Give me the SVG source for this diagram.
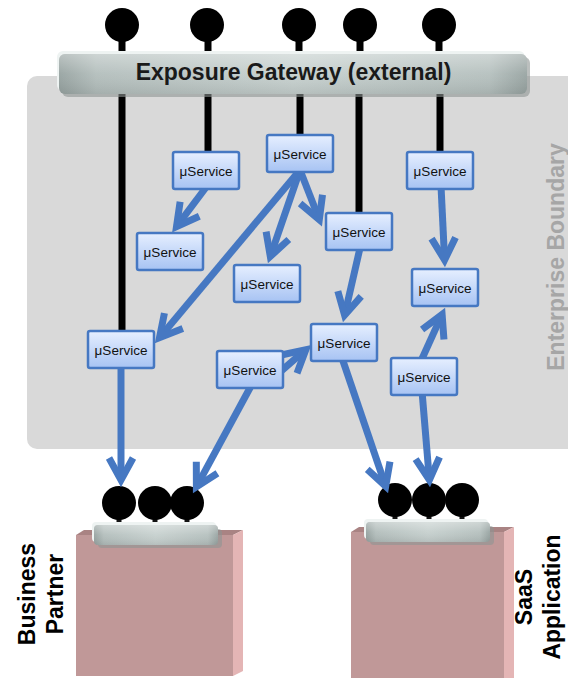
<svg xmlns="http://www.w3.org/2000/svg" width="568" height="678" viewBox="0 0 568 678">
  <defs>
    <style>
      .lbl { font-family: "Liberation Sans", Arial, sans-serif; font-weight: bold; font-size: 23px; text-anchor: middle; }
      .svc rect { fill: url(#svcFill); stroke: #4678c2; stroke-width: 2.5; }
      .svc text { font-family: "Liberation Sans", Arial, sans-serif; font-size: 13.5px; fill: #111; text-anchor: middle; }
      .wire { stroke: #000; stroke-width: 7; fill: none; }
      .stem { stroke: #111; stroke-width: 5; }
      .flow { stroke: #4678c2; stroke-width: 7; fill: none; marker-end: url(#chev); }
      .front { fill: #c09898; }
      .side { fill: #e4b5b5; }
      .top { fill: #a98383; }
    </style>
    <linearGradient id="svcFill" x1="0" y1="0" x2="0" y2="1">
      <stop offset="0" stop-color="#e6efff"/>
      <stop offset="1" stop-color="#a7c3f3"/>
    </linearGradient>
    <linearGradient id="barFill" x1="0" y1="0" x2="1" y2="0">
      <stop offset="0" stop-color="#97a3a1"/>
      <stop offset="0.08" stop-color="#b3bebc"/>
      <stop offset="0.5" stop-color="#c6d0ce"/>
      <stop offset="0.92" stop-color="#b5c0be"/>
      <stop offset="1" stop-color="#98a4a2"/>
    </linearGradient>
    <linearGradient id="barShine" x1="0" y1="0" x2="0" y2="1">
      <stop offset="0" stop-color="#fff" stop-opacity="0.35"/>
      <stop offset="0.5" stop-color="#fff" stop-opacity="0.05"/>
      <stop offset="1" stop-color="#000" stop-opacity="0.08"/>
    </linearGradient>
    <marker id="chev" markerUnits="userSpaceOnUse" viewBox="-30 -20 40 40" markerWidth="40" markerHeight="40" refX="0" refY="0" orient="auto" overflow="visible">
      <path d="M-22,-12 L0,0 L-22,12" fill="none" stroke="#4678c2" stroke-width="7" stroke-linejoin="miter"/>
    </marker>
  </defs>

  <rect width="568" height="678" fill="#fff"/>

  <!-- enterprise boundary -->
  <g id="enterprise-boundary">
    <rect x="27" y="76" width="600" height="373" rx="10" fill="#d9d9d9"/>
    <text class="lbl" transform="translate(563.5,257) rotate(-90)" fill="#a6a6a6">Enterprise Boundary</text>
  </g>

  <!-- gateway wires into the enterprise -->
  <g id="gateway-wires">
    <line class="wire" x1="122" y1="90" x2="122" y2="333"/>
    <line class="wire" x1="208" y1="90" x2="208" y2="154"/>
    <line class="wire" x1="300" y1="90" x2="300" y2="137"/>
    <line class="wire" x1="359" y1="90" x2="359" y2="215"/>
    <line class="wire" x1="440" y1="90" x2="440" y2="154"/>
  </g>

  <!-- exposure gateway -->
  <g id="exposure-gateway">
    <line class="wire" x1="122" y1="25" x2="122" y2="58"/>
    <line class="wire" x1="208" y1="25" x2="208" y2="58"/>
    <line class="wire" x1="299" y1="25" x2="299" y2="58"/>
    <line class="wire" x1="360" y1="25" x2="360" y2="58"/>
    <line class="wire" x1="439" y1="25" x2="439" y2="58"/>
    <circle cx="122" cy="25" r="17"/>
    <circle cx="207" cy="25" r="17"/>
    <circle cx="299" cy="25" r="17"/>
    <circle cx="360" cy="25" r="17"/>
    <circle cx="439" cy="25" r="17"/>
    <rect x="62" y="57" width="468" height="40" rx="6" fill="#8d9493" opacity="0.6"/>
    <rect x="57" y="51" width="468" height="40" rx="6" fill="#eef3f2"/>
    <rect x="59" y="54" width="468" height="40" rx="6" fill="url(#barFill)"/>
    <rect x="59" y="54" width="468" height="40" rx="6" fill="url(#barShine)"/>
    <text class="lbl" x="293.5" y="80" fill="#1a1a1a">Exposure Gateway (external)</text>
  </g>

  <!-- business partner -->
  <g id="business-partner">
    <polygon class="top" points="76,535 84,530 243,530 233,535"/>
    <polygon class="side" points="233,535 243,530 243,671 233,676"/>
    <rect class="front" x="76" y="535" width="157" height="141"/>
    <line class="stem" x1="119" y1="503" x2="119" y2="528"/>
    <line class="stem" x1="155" y1="503" x2="155" y2="528"/>
    <line class="stem" x1="187" y1="503" x2="187" y2="528"/>
    <rect x="98" y="529" width="124" height="19" rx="4" fill="#8d9493" opacity="0.6"/>
    <rect x="92" y="522" width="124" height="20" rx="4" fill="#eef3f2"/>
    <rect x="94" y="525" width="124" height="20" rx="4" fill="url(#barFill)"/>
    <rect x="94" y="525" width="124" height="20" rx="4" fill="url(#barShine)"/>
    <circle cx="119" cy="503" r="17"/>
    <circle cx="155" cy="503" r="17"/>
    <circle cx="187" cy="503" r="17"/>
    <text class="lbl" transform="translate(35,594) rotate(-90)" fill="#000">Business</text>
    <text class="lbl" transform="translate(63,594) rotate(-90)" fill="#000">Partner</text>
  </g>

  <!-- SaaS application -->
  <g id="saas-application">
    <polygon class="top" points="351,532 359,527 514,527 504,532"/>
    <polygon class="side" points="504,532 514,527 514,678 504,678"/>
    <rect class="front" x="351" y="532" width="153" height="146"/>
    <line class="stem" x1="395" y1="500" x2="395" y2="525"/>
    <line class="stem" x1="429" y1="500" x2="429" y2="525"/>
    <line class="stem" x1="462" y1="500" x2="462" y2="525"/>
    <rect x="370" y="526" width="124" height="19" rx="4" fill="#8d9493" opacity="0.6"/>
    <rect x="364" y="519" width="124" height="20" rx="4" fill="#eef3f2"/>
    <rect x="366" y="522" width="124" height="20" rx="4" fill="url(#barFill)"/>
    <rect x="366" y="522" width="124" height="20" rx="4" fill="url(#barShine)"/>
    <circle cx="395" cy="500" r="17"/>
    <circle cx="429" cy="500" r="17"/>
    <circle cx="462" cy="500" r="17"/>
    <text class="lbl" transform="translate(532,597) rotate(-90)" fill="#000">SaaS</text>
    <text class="lbl" transform="translate(560,597) rotate(-90)" fill="#000">Application</text>
  </g>

  <!-- service calls -->
  <g id="connectors">
    <line class="flow" x1="207" y1="186" x2="176.5" y2="226.6"/>
    <line class="flow" x1="300" y1="170" x2="319.3" y2="219.6"/>
    <line class="flow" x1="300" y1="170" x2="270.3" y2="256.4"/>
    <line class="flow" x1="300" y1="170" x2="159.5" y2="337.7"/>
    <line class="flow" x1="360" y1="248" x2="344.6" y2="315.2"/>
    <line class="flow" x1="441" y1="186" x2="444.6" y2="260"/>
    <line class="flow" x1="421" y1="361" x2="442.1" y2="314.4"/>
    <line class="flow" x1="280" y1="372" x2="305.8" y2="349.7"/>
    <line class="flow" x1="121" y1="365" x2="121" y2="480"/>
    <line class="flow" x1="251" y1="386" x2="196.4" y2="486.9"/>
    <line class="flow" x1="342" y1="358" x2="385.7" y2="486.4"/>
    <line class="flow" x1="422" y1="391" x2="429.4" y2="480"/>
  </g>

  <!-- microservices -->
  <g id="svc-1" class="svc"><rect x="173" y="152" width="66" height="37" rx="2"/><text x="206" y="175.5">μService</text></g>
  <g id="svc-2" class="svc"><rect x="267" y="135" width="66" height="37" rx="2"/><text x="300" y="158.5">μService</text></g>
  <g id="svc-3" class="svc"><rect x="407" y="152" width="66" height="37" rx="2"/><text x="440" y="175.5">μService</text></g>
  <g id="svc-4" class="svc"><rect x="137" y="233" width="66" height="37" rx="2"/><text x="170" y="256.5">μService</text></g>
  <g id="svc-5" class="svc"><rect x="234" y="265" width="66" height="37" rx="2"/><text x="267" y="288.5">μService</text></g>
  <g id="svc-6" class="svc"><rect x="326" y="213" width="66" height="37" rx="2"/><text x="359" y="236.5">μService</text></g>
  <g id="svc-7" class="svc"><rect x="412" y="269" width="66" height="37" rx="2"/><text x="445" y="292.5">μService</text></g>
  <g id="svc-8" class="svc"><rect x="88" y="331" width="66" height="37" rx="2"/><text x="121" y="354.5">μService</text></g>
  <g id="svc-9" class="svc"><rect x="311" y="324" width="66" height="37" rx="2"/><text x="344" y="347.5">μService</text></g>
  <g id="svc-10" class="svc"><rect x="217" y="351" width="66" height="37" rx="2"/><text x="250" y="374.5">μService</text></g>
  <g id="svc-11" class="svc"><rect x="391" y="358" width="66" height="37" rx="2"/><text x="424" y="381.5">μService</text></g>
</svg>
